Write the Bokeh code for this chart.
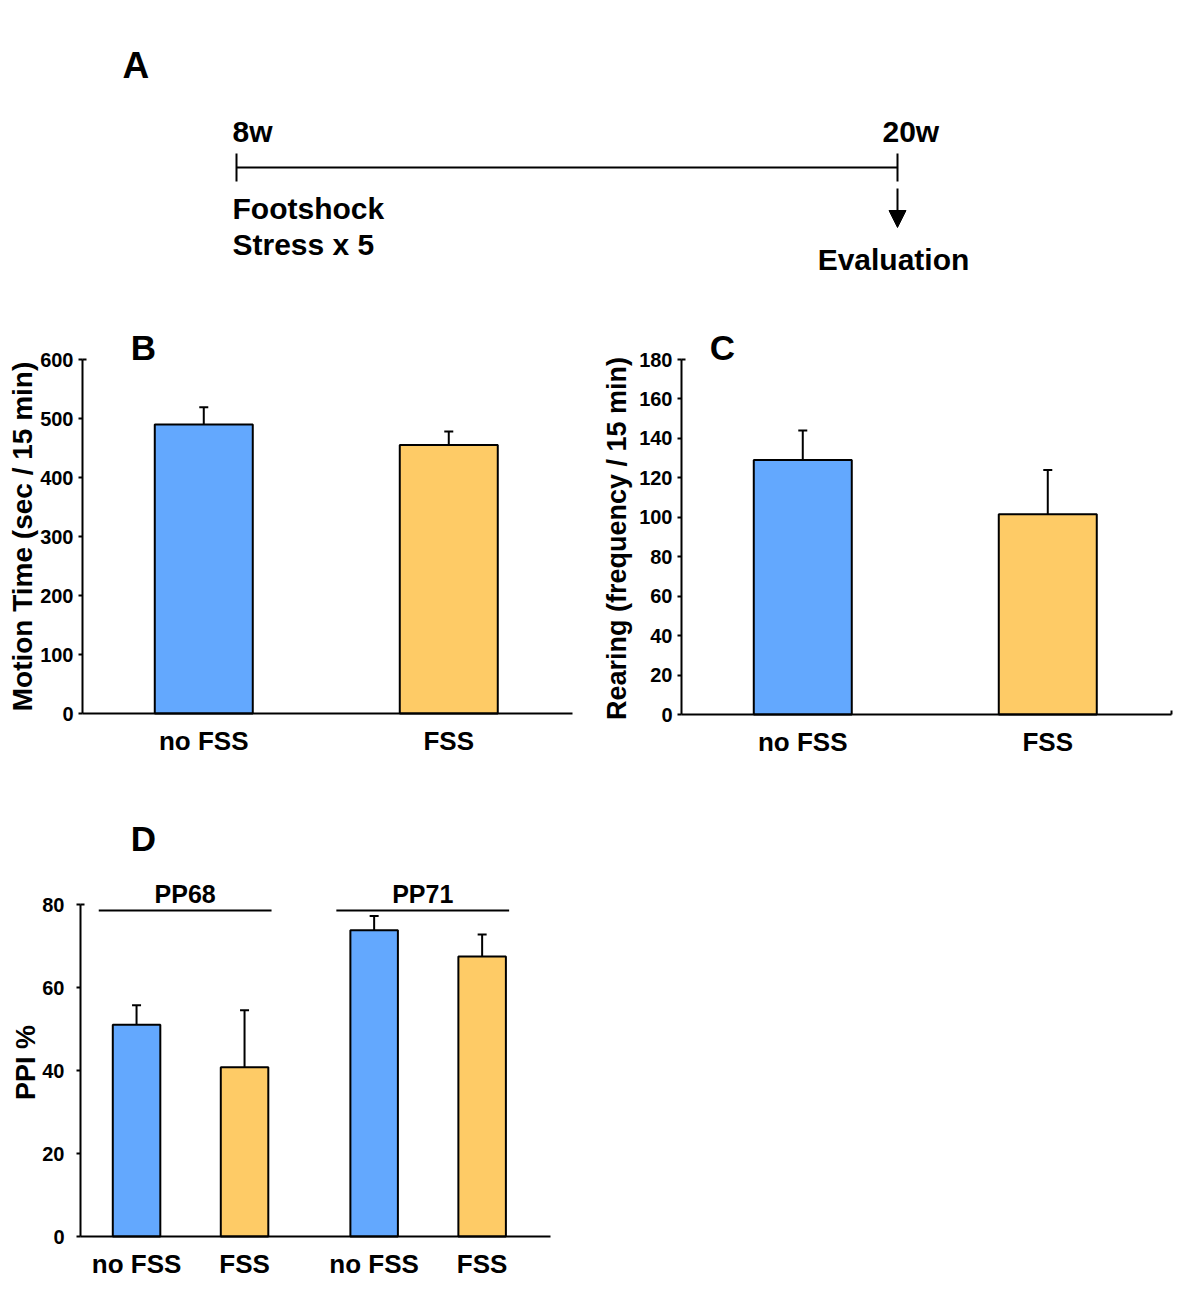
import math
from bokeh.plotting import figure
from bokeh.layouts import column, row
from bokeh.models import (Range1d, FixedTicker, Arrow, NormalHead,
                          Whisker, TeeHead, ColumnDataSource)
from bokeh.core.properties import value
from bokeh.embed import file_html
from bokeh.resources import INLINE

# ---------------- data ----------------
timeline_weeks = [8, 20]
timeline_labels = ["8w", "20w"]
stress_text = ["Footshock", "Stress x 5"]
eval_text = "Evaluation"

groups = ["no FSS", "FSS"]

motion_mean = [490, 455]
motion_sem = [29, 23]
motion_ticks = [0, 100, 200, 300, 400, 500, 600]

rearing_mean = [129, 101.5]
rearing_sem = [15, 22.5]
rearing_ticks = [0, 20, 40, 60, 80, 100, 120, 140, 160, 180]

ppi_sets = ["PP68", "PP71"]
ppi_mean = [51, 40.8, 73.8, 67.5]
ppi_sem = [4.7, 13.7, 3.4, 5.3]
ppi_ticks = [0, 20, 40, 60, 80]

# ---------------- style ----------------
FONT = "Liberation Sans"
BLUE = "#63A8FE"
YELLOW = "#FECB66"
BAR_COLORS = [BLUE, YELLOW]

tfont = dict(text_font=value(FONT), text_font_style="bold", text_color="black",
             text_baseline="middle")


def clean_fig(width, height, x_range, y_range):
    p = figure(width=width, height=height, x_range=x_range, y_range=y_range,
               output_backend="svg", toolbar_location=None,
               min_border_left=0, min_border_right=0,
               min_border_top=0, min_border_bottom=0)
    p.frame_align = False
    p.grid.visible = False
    p.outline_line_color = None
    p.background_fill_color = "white"
    p.border_fill_color = "white"
    return p


def bar_panel(box, axis_box, xlo, xhi, yticks):
    """box: figure (x0, y0, w, h) on the page; axis_box: (left, right, top, bottom)
    pixel position of the axes. Returns figure and pixel->data helpers."""
    fx, fy, fw, fh = box
    al, ar, at, ab = axis_box
    ymax = yticks[-1]
    kx = (ar - al) / (xhi - xlo)
    ky = (ab - at) / ymax
    xr = Range1d(xlo - (al - fx) / kx, xhi + (fx + fw - ar) / kx)
    yr = Range1d(-(fy + fh - ab) / ky, ymax + (at - fy) / ky)
    p = clean_fig(fw, fh, xr, yr)

    def X(px):
        return xlo + (px - al) / kx

    def Y(py):
        return (ab - py) / ky

    p._X, p._Y, p._kx, p._ky = X, Y, kx, ky
    p._xlo, p._xhi, p._ymax = xlo, xhi, ymax
    return p


def style_axes(p, xs, xlabels, yticks, tick_standoff=5):
    xa = p.xaxis[0]
    xa.fixed_location = 0
    xa.bounds = (p._xlo, p._xhi)
    xa.ticker = FixedTicker(ticks=list(xs))
    xa.major_label_overrides = {x: l for x, l in zip(xs, xlabels)}
    xa.major_tick_in = 0
    xa.major_tick_out = 0
    xa.minor_tick_in = 0
    xa.minor_tick_out = 0
    xa.axis_line_width = 2
    xa.axis_line_color = "black"
    xa.major_label_text_font = FONT
    xa.major_label_text_font_style = "bold"
    xa.major_label_text_font_size = "26px"
    xa.major_label_text_color = "black"
    xa.major_label_standoff = 12

    ya = p.yaxis[0]
    ya.fixed_location = p._xlo
    ya.ticker = FixedTicker(ticks=list(yticks))
    ya.bounds = (yticks[0], yticks[-1])
    ya.major_tick_in = 0
    ya.major_tick_out = 4
    ya.major_tick_line_width = 2
    ya.minor_tick_in = 0
    ya.minor_tick_out = 0
    ya.axis_line_width = 2
    ya.axis_line_color = "black"
    ya.major_label_text_font = FONT
    ya.major_label_text_font_style = "bold"
    ya.major_label_text_font_size = "20px"
    ya.major_label_text_color = "black"
    ya.major_label_standoff = tick_standoff
    # small inward hook at the top of the value axis
    p.segment(x0=[p._xlo], y0=[p._ymax], x1=[p._xlo + 4 / p._kx], y1=[p._ymax],
              line_color="black", line_width=2)


def y_title(p, px, py, text, size):
    p.text(x=[p._X(px)], y=[p._Y(py)], text=[text], angle=math.pi / 2,
           text_font_size=size, text_align="center", **tfont)


def add_bars(p, xs, means, sems, width, colors):
    src = ColumnDataSource(dict(x=list(xs), top=list(means), color=list(colors),
                                upper=[m + s for m, s in zip(means, sems)],
                                lower=list(means)))
    w = Whisker(source=src, base="x", lower="lower", upper="upper",
                lower_head=None,
                upper_head=TeeHead(size=9, line_width=2, line_color="black"),
                line_width=2, line_color="black")
    p.add_layout(w)
    p.vbar(x="x", top="top", bottom=0, width=width, source=src,
           fill_color="color", line_color="black", line_width=2)


def panel_letter(p, px, py, text):
    p.text(x=[p._X(px)], y=[p._Y(py)], text=[text], text_font_size="35px",
           text_align="center", **tfont)


# ---------------- Panel A: timeline ----------------
pxw = (897 - 236) / 12.0  # pixels per week
a_x0 = timeline_weeks[0] - 236 / pxw
a_x1 = timeline_weeks[1] + (1200 - 897) / pxw
pA = clean_fig(1200, 300, Range1d(a_x0, a_x1), Range1d(300, 0))
pA.axis.visible = False

pA.line(x=timeline_weeks, y=[167, 167], line_color="black", line_width=2)
pA.segment(x0=timeline_weeks, y0=[153, 153], x1=timeline_weeks, y1=[181, 181],
           line_color="black", line_width=2)
pA.add_layout(Arrow(end=NormalHead(size=17, fill_color="black", line_color="black"),
                    x_start=timeline_weeks[1], y_start=188,
                    x_end=timeline_weeks[1], y_end=227,
                    line_color="black", line_width=2))

pA.text(x=[timeline_weeks[0]], y=[65], text=["A"], text_font_size="37px",
        text_align="left", x_offset=-114, **tfont)
pA.text(x=[timeline_weeks[0]], y=[131], text=[timeline_labels[0]],
        text_font_size="30px", text_align="left", x_offset=-4, **tfont)
pA.text(x=[timeline_weeks[1]], y=[131], text=[timeline_labels[1]],
        text_font_size="30px", text_align="left", x_offset=-15, **tfont)
pA.text(x=[timeline_weeks[0]] * 2, y=[208, 244], text=stress_text,
        text_font_size="30px", text_align="left", x_offset=-4, **tfont)
pA.text(x=[timeline_weeks[1]], y=[259], text=[eval_text],
        text_font_size="30px", text_align="center", x_offset=-4, **tfont)

# ---------------- Panel B ----------------
xs2 = list(range(len(groups)))
pB = bar_panel((0, 300, 598, 490), (82, 572, 359, 713), -0.495, 1.505, motion_ticks)
add_bars(pB, xs2, motion_mean, motion_sem, 0.4, BAR_COLORS)
style_axes(pB, xs2, groups, motion_ticks)
y_title(pB, 22, 536, "Motion Time (sec / 15 min)", "28px")
panel_letter(pB, 143, 347, "B")

# ---------------- Panel C ----------------
pC = bar_panel((598, 300, 602, 490), (681, 1171, 359, 714), -0.495, 1.505, rearing_ticks)
add_bars(pC, xs2, rearing_mean, rearing_sem, 0.4, BAR_COLORS)
style_axes(pC, xs2, groups, rearing_ticks)
y_title(pC, 616, 538, "Rearing (frequency / 15 min)", "27px")
panel_letter(pC, 722, 347, "C")
pC.segment(x0=[pC._xhi], y0=[0], x1=[pC._xhi], y1=[4 / pC._ky],
           line_color="black", line_width=2)

# ---------------- Panel D ----------------
gap = 0.2
xs4 = [g * (len(groups) + gap) + i for g in range(len(ppi_sets)) for i in range(len(groups))]
pD = bar_panel((0, 790, 1200, 498), (80, 550, 904, 1236), -0.519, 3.833, ppi_ticks)
add_bars(pD, xs4, ppi_mean, ppi_sem, 0.44, BAR_COLORS * len(ppi_sets))
style_axes(pD, xs4, groups * len(ppi_sets), ppi_ticks, tick_standoff=12)
y_title(pD, 25, 1062, "PPI %", "27px")
panel_letter(pD, 143, 838, "D")

g_x0 = [xs4[g * len(groups)] - 0.35 for g in range(len(ppi_sets))]
g_x1 = [xs4[g * len(groups) + len(groups) - 1] + 0.25 for g in range(len(ppi_sets))]
g_y = pD._Y(910)
pD.segment(x0=g_x0, y0=[g_y] * len(ppi_sets), x1=g_x1, y1=[g_y] * len(ppi_sets),
           line_color="black", line_width=2)
pD.text(x=[(a + b) / 2 for a, b in zip(g_x0, g_x1)], y=[pD._Y(893)] * len(ppi_sets),
        text=ppi_sets, text_font_size="25px", text_align="center", **tfont)

layout = column(pA, row(pB, pC), pD)
open("out.html", "w").write(file_html(layout, INLINE))
